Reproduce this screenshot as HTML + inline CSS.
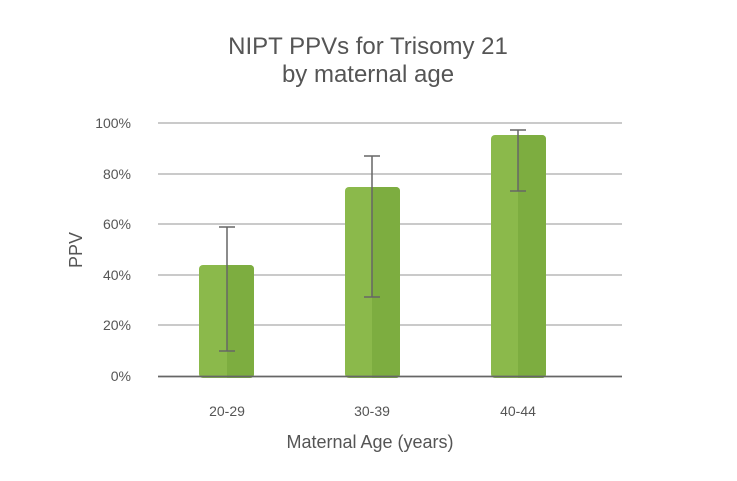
<!DOCTYPE html><html><head><style>body{margin:0;background:#fff}svg text{font-family:"Liberation Sans",sans-serif}</style></head><body>
<svg width="737" height="476" xmlns="http://www.w3.org/2000/svg">
<rect width="737" height="476" fill="#fff"/>
<text x="368" y="54" font-size="24" fill="#555" text-anchor="middle">NIPT PPVs for Trisomy 21</text>
<text x="368" y="82" font-size="24" fill="#555" text-anchor="middle">by maternal age</text>
<g stroke="#aaa" stroke-width="1.3">
<line x1="158" x2="622" y1="123" y2="123"/><line x1="158" x2="622" y1="174" y2="174"/><line x1="158" x2="622" y1="224" y2="224"/><line x1="158" x2="622" y1="275" y2="275"/><line x1="158" x2="622" y1="325" y2="325"/>
</g>
<g font-size="14" fill="#555" text-anchor="end">
<text x="131" y="128">100%</text><text x="131" y="179">80%</text><text x="131" y="229">60%</text><text x="131" y="280">40%</text><text x="131" y="330">20%</text><text x="131" y="381">0%</text>
</g>
<text transform="translate(82,250) rotate(-90)" font-size="18" fill="#555" text-anchor="middle">PPV</text>
<g>
<rect x="199" y="265" width="55" height="113" rx="4" fill="#8bb94b"/><rect x="227" y="265" width="27" height="113" rx="4" fill="#7dad40"/><rect x="227" y="265" width="10" height="113" fill="#7dad40"/>
<rect x="345" y="187" width="55" height="191" rx="4" fill="#8bb94b"/><rect x="372" y="187" width="28" height="191" rx="4" fill="#7dad40"/><rect x="372" y="187" width="10" height="191" fill="#7dad40"/>
<rect x="491" y="135" width="55" height="243" rx="4" fill="#8bb94b"/><rect x="518" y="135" width="28" height="243" rx="4" fill="#7dad40"/><rect x="518" y="135" width="10" height="243" fill="#7dad40"/>
</g>
<line x1="158" x2="622" y1="376.5" y2="376.5" stroke="#666" stroke-width="1.8"/>
<g stroke="#666" stroke-width="1.5">
<line x1="227" x2="227" y1="227" y2="351"/><line x1="219" x2="235" y1="227" y2="227"/><line x1="219" x2="235" y1="351" y2="351"/>
<line x1="372" x2="372" y1="156" y2="297"/><line x1="364" x2="380" y1="156" y2="156"/><line x1="364" x2="380" y1="297" y2="297"/>
<line x1="518" x2="518" y1="130" y2="191"/><line x1="510" x2="526" y1="130" y2="130"/><line x1="510" x2="526" y1="191" y2="191"/>
</g>
<g font-size="14" fill="#555" text-anchor="middle">
<text x="227" y="416">20-29</text><text x="372" y="416">30-39</text><text x="518" y="416">40-44</text>
</g>
<text x="370" y="448" font-size="18" fill="#555" text-anchor="middle">Maternal Age (years)</text>
</svg></body></html>
